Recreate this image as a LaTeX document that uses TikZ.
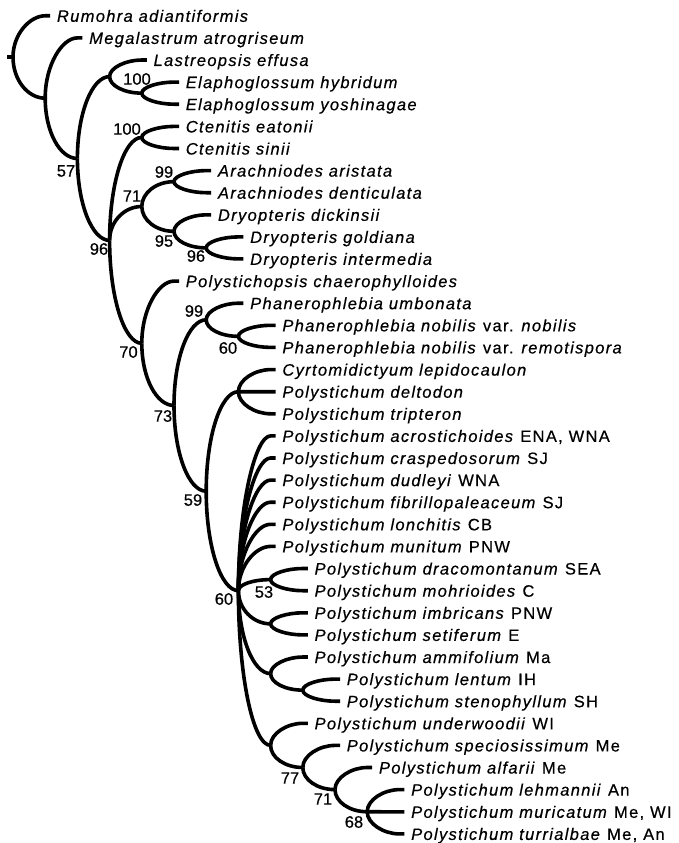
\documentclass[tikz,border=0pt]{standalone}
\usepackage{fontspec}
\setmainfont{Liberation Sans}
\newfontfamily\taxfont[LetterSpace=8,FakeBold=0.5]{Liberation Sans}
\newfontfamily\bsfont[FakeBold=0.5]{Liberation Sans}
\usetikzlibrary{calc}

\tikzset{
  branch/.style={to path={.. controls ($(\tikztostart)!0.55!(\tikztostart|-\tikztotarget)$)
      and ($(\tikztotarget)!0.55!(\tikztostart|-\tikztotarget)$) .. (\tikztotarget)}},
  leaf/.style={to path={.. controls ($(\tikztostart)!0.55!(\tikztostart|-\tikztotarget)$)
      and ($(\tikztotarget)!0.55!(\tikztostart|-\tikztotarget)$) .. ($(\tikztotarget)+(-5,0)$) -- (\tikztotarget)}},
  taxon/.style={anchor=west, inner xsep=5pt, inner ysep=0pt, text height=12pt, text depth=0pt,
      font=\taxfont\fontsize{16.5}{18}\selectfont},
  support/.style={inner sep=0pt, font=\bsfont\fontsize{16.5}{18}\selectfont},
}

\begin{document}
\begin{tikzpicture}[x=1pt, y=-1pt, line width=3.6pt]
  \useasboundingbox (0,0) rectangle (678,843);

  \coordinate (base) at (7,57);
  \coordinate (root) at (13,57);
  \coordinate (nA) at (45.2,98.2);
  \coordinate (n57) at (77.4,158.5);
  \coordinate (nL) at (109.6,76.6);
  \coordinate (n100e) at (141.8,93.15);
  \coordinate (n96) at (109.6,240.4);
  \coordinate (n100c) at (141.8,137.45);
  \coordinate (n71) at (141.8,206.5);
  \coordinate (n99a) at (174,181.65);
  \coordinate (n95) at (174,231.35);
  \coordinate (n96d) at (206.2,247.9);
  \coordinate (n70) at (141.8,343.3);
  \coordinate (n73) at (174,405.5);
  \coordinate (n99p) at (206.2,319.8);
  \coordinate (n60p) at (238.4,336.35);
  \coordinate (n59) at (206.2,491.2);
  \coordinate (ncy) at (238.4,391.7);
  \coordinate (n60) at (238.4,590.65);
  \coordinate (n53) at (270.6,579.6);
  \coordinate (nim) at (270.6,623.85);
  \coordinate (nam) at (270.6,673.6);
  \coordinate (nle) at (302.8,690.15);
  \coordinate (nun) at (270.6,745.4);
  \coordinate (n77) at (302.8,767.5);
  \coordinate (n71b) at (335,789.6);
  \coordinate (n68) at (367.2,811.75);

  \node[taxon] (Rad) at (50.2,15.8) {\textit{Rumohra adiantiformis}};
  \node[taxon] (Mat) at (82.4,37.9) {\textit{Megalastrum atrogriseum}};
  \node[taxon] (Lef) at (146.8,60.0) {\textit{Lastreopsis effusa}};
  \node[taxon] (Ehy) at (179,82.1) {\textit{Elaphoglossum hybridum}};
  \node[taxon] (Eyo) at (179,104.2) {\textit{Elaphoglossum yoshinagae}};
  \node[taxon] (Cea) at (179,126.4) {\textit{Ctenitis eatonii}};
  \node[taxon] (Csi) at (179,148.5) {\textit{Ctenitis sinii}};
  \node[taxon] (Aar) at (211.2,170.6) {\textit{Arachniodes aristata}};
  \node[taxon] (Ade) at (211.2,192.7) {\textit{Arachniodes denticulata}};
  \node[taxon] (Ddi) at (211.2,214.8) {\textit{Dryopteris dickinsii}};
  \node[taxon] (Dgo) at (243.4,236.9) {\textit{Dryopteris goldiana}};
  \node[taxon] (Din) at (243.4,258.9) {\textit{Dryopteris intermedia}};
  \node[taxon] (Pch) at (179,281.1) {\textit{Polystichopsis chaerophylloides}};
  \node[taxon] (Pum) at (243.4,303.2) {\textit{Phanerophlebia umbonata}};
  \node[taxon] (Pno) at (275.6,325.3) {\textit{Phanerophlebia nobilis} var. \textit{nobilis}};
  \node[taxon] (Pre) at (275.6,347.4) {\textit{Phanerophlebia nobilis} var. \textit{remotispora}};
  \node[taxon] (Cle) at (275.6,369.6) {\textit{Cyrtomidictyum lepidocaulon}};
  \node[taxon] (Pde) at (275.6,391.7) {\textit{Polystichum deltodon}};
  \node[taxon] (Ptr) at (275.6,413.8) {\textit{Polystichum tripteron}};
  \node[taxon] (Pac) at (275.6,435.9) {\textit{Polystichum acrostichoides} ENA, WNA};
  \node[taxon] (Pcr) at (275.6,458.0) {\textit{Polystichum craspedosorum} SJ};
  \node[taxon] (Pdu) at (275.6,480.1) {\textit{Polystichum dudleyi} WNA};
  \node[taxon] (Pfi) at (275.6,502.2) {\textit{Polystichum fibrillopaleaceum} SJ};
  \node[taxon] (Plo) at (275.6,524.3) {\textit{Polystichum lonchitis} CB};
  \node[taxon] (Pmu) at (275.6,546.4) {\textit{Polystichum munitum} PNW};
  \node[taxon] (Pdr) at (307.8,568.5) {\textit{Polystichum dracomontanum} SEA};
  \node[taxon] (Pmo) at (307.8,590.7) {\textit{Polystichum mohrioides} C};
  \node[taxon] (Pim) at (307.8,612.8) {\textit{Polystichum imbricans} PNW};
  \node[taxon] (Pse) at (307.8,634.9) {\textit{Polystichum setiferum} E};
  \node[taxon] (Pam) at (307.8,657.0) {\textit{Polystichum ammifolium} Ma};
  \node[taxon] (Ple) at (340,679.1) {\textit{Polystichum lentum} IH};
  \node[taxon] (Pst) at (340,701.2) {\textit{Polystichum stenophyllum} SH};
  \node[taxon] (Pun) at (307.8,723.3) {\textit{Polystichum underwoodii} WI};
  \node[taxon] (Psp) at (340,745.4) {\textit{Polystichum speciosissimum} Me};
  \node[taxon] (Pal) at (372.2,767.5) {\textit{Polystichum alfarii} Me};
  \node[taxon] (Plh) at (404.4,789.6) {\textit{Polystichum lehmannii} An};
  \node[taxon] (Pmr) at (404.4,811.8) {\textit{Polystichum muricatum} Me, WI};
  \node[taxon] (Ptu) at (404.4,833.9) {\textit{Polystichum turrialbae} Me, An};

  \node[support] (s57) at (66,171) {57};
  \node[support] (s100e) at (137,79) {100};
  \node[support] (s100c) at (127,129) {100};
  \node[support] (s99a) at (164,172) {99};
  \node[support] (s71) at (132,196) {71};
  \node[support] (s95) at (164,241) {95};
  \node[support] (s96d) at (196,256) {96};
  \node[support] (s96) at (99,249) {96};
  \node[support] (s99p) at (194,311) {99};
  \node[support] (s60p) at (228,348) {60};
  \node[support] (s70) at (128.5,352) {70};
  \node[support] (s73) at (163,416) {73};
  \node[support] (s59) at (193,500) {59};
  \node[support] (s60) at (224,599) {60};
  \node[support] (s53) at (264,592) {53};
  \node[support] (s77) at (290,778) {77};
  \node[support] (s71b) at (323,799) {71};
  \node[support] (s68) at (354,822) {68};

  \draw (base) -- (root);
  \draw (root) to[leaf] (Rad.west);
  \draw (root) to[branch] (nA);
  \draw (nA) to[leaf] (Mat.west);
  \draw (nA) to[branch] (n57);
  \draw (n57) to[branch] (nL);
  \draw (nL) to[leaf] (Lef.west);
  \draw (nL) to[branch] (n100e);
  \draw (n100e) to[leaf] (Ehy.west);
  \draw (n100e) to[leaf] (Eyo.west);
  \draw (n57) to[branch] (n96);
  \draw (n96) to[branch] (n100c);
  \draw (n100c) to[leaf] (Cea.west);
  \draw (n100c) to[leaf] (Csi.west);
  \draw (n96) to[branch] (n71);
  \draw (n71) to[branch] (n99a);
  \draw (n99a) to[leaf] (Aar.west);
  \draw (n99a) to[leaf] (Ade.west);
  \draw (n71) to[branch] (n95);
  \draw (n95) to[leaf] (Ddi.west);
  \draw (n95) to[branch] (n96d);
  \draw (n96d) to[leaf] (Dgo.west);
  \draw (n96d) to[leaf] (Din.west);
  \draw (n96) to[branch] (n70);
  \draw (n70) to[leaf] (Pch.west);
  \draw (n70) to[branch] (n73);
  \draw (n73) to[branch] (n99p);
  \draw (n99p) to[leaf] (Pum.west);
  \draw (n99p) to[branch] (n60p);
  \draw (n60p) to[leaf] (Pno.west);
  \draw (n60p) to[leaf] (Pre.west);
  \draw (n73) to[branch] (n59);
  \draw (n59) to[branch] (ncy);
  \draw (ncy) to[leaf] (Cle.west);
  \draw (ncy) to[leaf] (Pde.west);
  \draw (ncy) to[leaf] (Ptr.west);
  \draw (n59) to[branch] (n60);
  \draw (n60) to[leaf] (Pac.west);
  \draw (n60) to[leaf] (Pcr.west);
  \draw (n60) to[leaf] (Pdu.west);
  \draw (n60) to[leaf] (Pfi.west);
  \draw (n60) to[leaf] (Plo.west);
  \draw (n60) to[leaf] (Pmu.west);
  \draw (n60) to[branch] (n53);
  \draw (n53) to[leaf] (Pdr.west);
  \draw (n53) to[leaf] (Pmo.west);
  \draw (n60) to[branch] (nim);
  \draw (nim) to[leaf] (Pim.west);
  \draw (nim) to[leaf] (Pse.west);
  \draw (n60) to[branch] (nam);
  \draw (nam) to[leaf] (Pam.west);
  \draw (nam) to[branch] (nle);
  \draw (nle) to[leaf] (Ple.west);
  \draw (nle) to[leaf] (Pst.west);
  \draw (n60) to[branch] (nun);
  \draw (nun) to[leaf] (Pun.west);
  \draw (nun) to[branch] (n77);
  \draw (n77) to[leaf] (Psp.west);
  \draw (n77) to[branch] (n71b);
  \draw (n71b) to[leaf] (Pal.west);
  \draw (n71b) to[branch] (n68);
  \draw (n68) to[leaf] (Plh.west);
  \draw (n68) to[leaf] (Pmr.west);
  \draw (n68) to[leaf] (Ptu.west);
\end{tikzpicture}
\end{document}
